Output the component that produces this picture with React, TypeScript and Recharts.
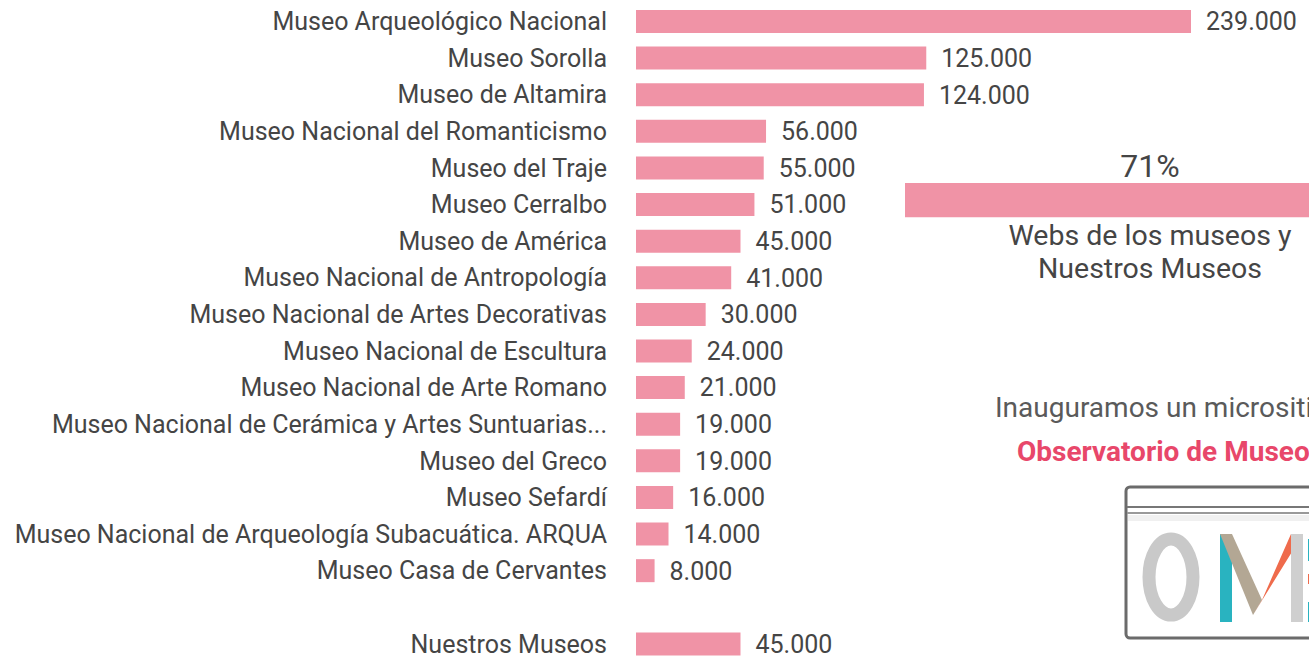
import { Bar, BarChart, LabelList, XAxis, YAxis } from "recharts";

const museums = [
  "Museo Arqueológico Nacional",
  "Museo Sorolla",
  "Museo de Altamira",
  "Museo Nacional del Romanticismo",
  "Museo del Traje",
  "Museo Cerralbo",
  "Museo de América",
  "Museo Nacional  de Antropología",
  "Museo Nacional de Artes Decorativas",
  "Museo Nacional de Escultura",
  "Museo Nacional de Arte Romano",
  "Museo Nacional de Cerámica y Artes Suntuarias...",
  "Museo del Greco",
  "Museo Sefardí",
  "Museo Nacional de Arqueología Subacuática. ARQUA",
  "Museo Casa de Cervantes",
  "",
  "Nuestros Museos",
];
const visits = [
  239000, 125000, 124000, 56000, 55000, 51000, 45000, 41000, 30000, 24000,
  21000, 19000, 19000, 16000, 14000, 8000, null, 45000,
];

const shareLabels = ["Webs de los museos y Nuestros Museos"];
const shareValues = [71];

const PINK = "#F093A6";
const TEXT = "#454545";
const FONT = "Roboto, sans-serif";

const rows = museums.map((name, i) => ({ name, value: visits[i] }));
const shareRows = shareLabels.map((name, i) => ({ name, value: shareValues[i] }));

const fmt = (v: any) =>
  v == null ? "" : String(v).replace(/\B(?=(\d{3})+(?!\d))/g, ".");

function ShareCaption(props: any) {
  const { x, y, height } = props;
  const cx = x + 245;
  return (
    <text
      x={cx}
      y={y + height + 28}
      textAnchor="middle"
      fill={TEXT}
      fontSize={28.5}
      fontFamily={FONT}
    >
      <tspan x={cx}>Webs de los museos y</tspan>
      <tspan x={cx} dy={33}>
        Nuestros Museos
      </tspan>
    </text>
  );
}

function Logo() {
  return (
    <svg width={200} height={160} style={{ position: "absolute", left: 1123, top: 484 }}>
      <rect x={3} y={3} width={220} height={151} rx={4} fill="#fff" stroke="#6b6b6b" strokeWidth={3} />
      <line x1={4} y1={23} x2={220} y2={23} stroke="#777" strokeWidth={2} />
      <line x1={4} y1={29} x2={220} y2={29} stroke="#999" strokeWidth={2} />
      <rect x={5} y={31} width={215} height={6} fill="#f0f0f0" />
      <ellipse cx={48} cy={93} rx={22} ry={38} fill="none" stroke="#c9c9c9" strokeWidth={13} />
      <rect x={97} y={50} width={12} height={88} fill="#29b3c0" />
      <polygon points="97,50 109,50 139,116 130,131" fill="#b3a794" />
      <polygon points="130,131 139,116 168,50 180,50" fill="#ef6b4c" />
      <rect x={168} y={50} width={12} height={88} fill="#cfcfcf" />
      <rect x={185} y={55} width={12} height={22} fill="#29b3c0" />
      <rect x={185} y={90} width={12} height={10} fill="#ef6b4c" />
      <rect x={185} y={118} width={12} height={20} fill="#29b3c0" />
    </svg>
  );
}

export default function App() {
  return (
    <div
      style={{
        position: "fixed",
        left: 0,
        top: 0,
        width: 1309,
        height: 656,
        overflow: "hidden",
        background: "#fff",
        fontFamily: FONT,
      }}
    >
      <BarChart
        width={1309}
        height={662}
        data={rows}
        layout="vertical"
        margin={{ top: 3, right: 118, bottom: 0, left: 0 }}
      >
        <XAxis type="number" domain={[0, 239000]} hide />
        <YAxis
          type="category"
          dataKey="name"
          width={636}
          axisLine={false}
          tickLine={false}
          tickSize={0}
          tickMargin={29}
          interval={0}
          tick={{ fill: TEXT, fontSize: 25, fontFamily: FONT }}
        />
        <Bar dataKey="value" fill={PINK} barSize={23} isAnimationActive={false}>
          <LabelList
            dataKey="value"
            position="right"
            offset={15}
            formatter={fmt}
            fill={TEXT}
            fontSize={25}
            fontFamily={FONT}
          />
        </Bar>
      </BarChart>

      <div style={{ position: "absolute", left: 905, top: 140 }}>
        <BarChart
          width={520}
          height={169}
          data={shareRows}
          layout="vertical"
          margin={{ top: 41, right: 30, bottom: 90, left: 0 }}
        >
          <XAxis type="number" domain={[0, 71]} hide />
          <YAxis type="category" dataKey="name" hide />
          <Bar dataKey="value" fill={PINK} barSize={38} isAnimationActive={false}>
            <LabelList
              dataKey="value"
              position="top"
              offset={6}
              formatter={(v: any) => `${v}%`}
              fill={TEXT}
              fontSize={32}
              fontFamily={FONT}
            />
            <LabelList dataKey="name" content={<ShareCaption />} />
          </Bar>
        </BarChart>
      </div>

      <div
        style={{
          position: "absolute",
          left: 995,
          top: 391,
          fontSize: 28,
          color: "#5a5a5a",
          whiteSpace: "nowrap",
        }}
      >
        Inauguramos un micrositio
      </div>
      <div
        style={{
          position: "absolute",
          left: 1017,
          top: 435,
          fontSize: 28,
          fontWeight: 700,
          color: "#E8476A",
          whiteSpace: "nowrap",
        }}
      >
        Observatorio de Museos
      </div>
      <Logo />
    </div>
  );
}
